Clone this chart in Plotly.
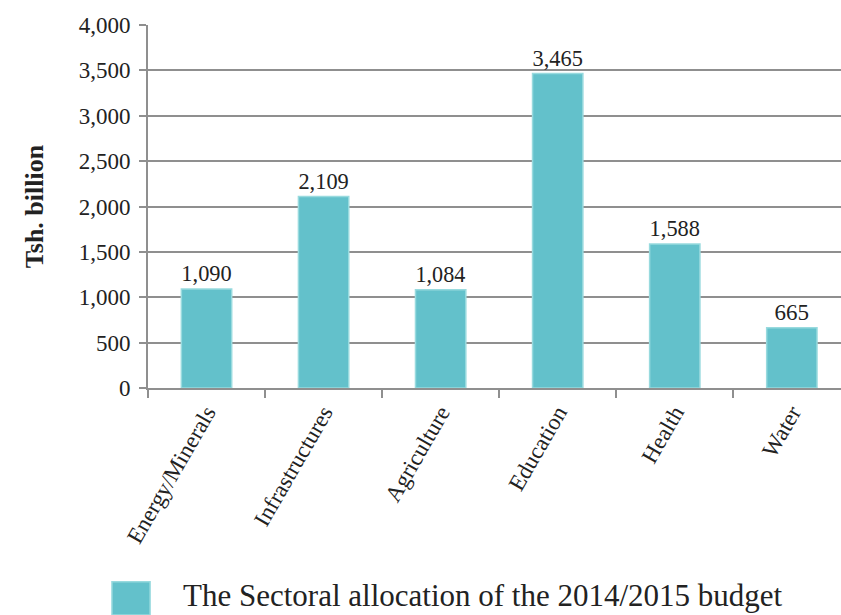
import plotly.graph_objects as go

# Sectoral allocation of the 2014/2015 budget (Tsh. billion)
sectors = ["Energy/Minerals", "Infrastructures", "Agriculture", "Education", "Health", "Water"]
allocation = [1090, 2109, 1084, 3465, 1588, 665]
y_ticks = [0, 500, 1000, 1500, 2000, 2500, 3000, 3500, 4000]
series_name = "The Sectoral allocation of the 2014/2015 budget"

FONT = "Liberation Serif, DejaVu Serif, serif"
GRID = "#8f8f8f"
BAR = "#63c1cb"
EDGE = "#98dade"

fig = go.Figure()
fig.add_trace(go.Bar(
    x=sectors,
    y=allocation,
    name=series_name,
    width=0.43,
    marker=dict(color=BAR, line=dict(color=EDGE, width=1.5)),
    text=[f"{v:,}" for v in allocation],
    textposition="outside",
    textfont=dict(family=FONT, size=23, color="#222222"),
    cliponaxis=False,
    showlegend=False,
))

fig.update_layout(
    width=841, height=615,
    margin=dict(l=148, r=0, t=25, b=227),
    plot_bgcolor="white", paper_bgcolor="white",
    font=dict(family=FONT, size=23, color="#222222"),
    bargap=0.57,
)
fig.update_yaxes(
    range=[0, 4000],
    tickvals=y_ticks,
    ticktext=[f"{v:,}" for v in y_ticks],
    showgrid=True, gridcolor=GRID, gridwidth=2,
    showline=True, linecolor=GRID, linewidth=2,
    ticks="outside", ticklen=7, tickcolor=GRID, tickwidth=2,
    ticklabelstandoff=4,
    zeroline=False,
    title=dict(text="<b>Tsh. billion</b>", font=dict(family=FONT, size=26), standoff=28),
    tickfont=dict(family=FONT, size=23, color="#222222"),
)
fig.update_xaxes(
    range=[-0.5, 5.42],
    showline=True, linecolor=GRID, linewidth=2,
    ticks="outside", tickson="boundaries", ticklen=8, tickcolor=GRID, tickwidth=2,
    tickangle=-60,
    tickfont=dict(family=FONT, size=23, color="#222222"),
)

# Legend swatch and caption below the chart
fig.add_shape(type="rect", xref="paper", yref="paper",
              x0=-0.052, x1=0.003, y0=-0.625, y1=-0.534,
              fillcolor=BAR, line=dict(color=EDGE, width=1.5))
fig.add_annotation(xref="paper", yref="paper", x=0.048, y=-0.572,
                   text=series_name, showarrow=False, xanchor="left", yanchor="middle",
                   font=dict(family=FONT, size=31, color="#222222"))

fig.write_html("out.html")
